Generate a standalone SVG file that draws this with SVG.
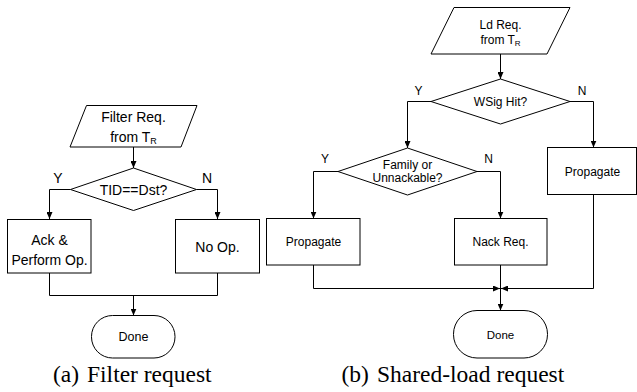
<svg xmlns="http://www.w3.org/2000/svg" width="637" height="392" viewBox="0 0 637 392">
  <style>
    .shape { fill: #ffffff; stroke: #000000; stroke-width: 1; }
    .wire { fill: none; stroke: #000000; stroke-width: 1; }
    .lbl { font-family: "Liberation Sans", Arial, sans-serif; fill: #000000; text-anchor: middle; }
    .big { font-size: 14px; }
    .small { font-size: 12px; }
    .sub { font-size: 9px; }
    .cap { font-family: "Liberation Serif", "Times New Roman", serif; font-size: 23.5px; fill: #000000; }
  </style>
  <defs>
    <marker id="arrow" markerUnits="userSpaceOnUse" markerWidth="7" markerHeight="6" refX="7" refY="3" orient="auto">
      <path d="M0,0 L7,3 L0,6 z" fill="#000000"/>
    </marker>
  </defs>

  <rect width="637" height="392" fill="#ffffff"/>

  <!-- (a) filter request flow -->
  <g id="connectors-a">
    <path class="wire" d="M133.5,147 V168" marker-end="url(#arrow)"/>
    <path class="wire" d="M70.5,189.5 H49.5 V219" marker-end="url(#arrow)"/>
    <path class="wire" d="M196.5,189.5 H217.5 V219" marker-end="url(#arrow)"/>
    <path class="wire" d="M49.5,273 V295.5 H217.5 V273"/>
    <path class="wire" d="M133.5,295.5 V315.5" marker-end="url(#arrow)"/>
    <text class="lbl big" x="58" y="183">Y</text>
    <text class="lbl big" x="207" y="183">N</text>
  </g>

  <g id="filter-req">
    <polygon class="shape" points="86.5,105.5 197,105.5 181,147 70,147"/>
    <text class="lbl big" x="133.5" y="121.5">Filter Req.</text>
    <text class="lbl big" x="133.5" y="141.5">from T<tspan class="sub" dy="2">R</tspan></text>
  </g>

  <g id="tid-check">
    <polygon class="shape" points="133.5,168 196.5,189.5 133.5,210.5 70.5,189.5"/>
    <text class="lbl big" x="133.5" y="194.5">TID==Dst?</text>
  </g>

  <g id="ack-perform">
    <rect class="shape" x="7.5" y="219.5" width="83.5" height="53.5"/>
    <text class="lbl big" x="49.5" y="244.5">Ack &amp;</text>
    <text class="lbl big" x="49.5" y="264.5">Perform Op.</text>
  </g>

  <g id="no-op">
    <rect class="shape" x="175.5" y="219.5" width="84" height="53.5"/>
    <text class="lbl big" x="217.5" y="251.5">No Op.</text>
  </g>

  <g id="done-a">
    <rect class="shape" x="91.5" y="315.5" width="83.5" height="42.5" rx="21" ry="21"/>
    <text class="lbl" style="font-size:12.5px" x="133.5" y="341">Done</text>
  </g>

  <!-- (b) shared-load request flow -->
  <g id="connectors-b">
    <path class="wire" d="M500.5,54 V79" marker-end="url(#arrow)"/>
    <path class="wire" d="M431,101.5 H407.5 V148" marker-end="url(#arrow)"/>
    <path class="wire" d="M570,101.5 H593.5 V147.5" marker-end="url(#arrow)"/>
    <path class="wire" d="M338,171.5 H313.5 V218.5" marker-end="url(#arrow)"/>
    <path class="wire" d="M477,171.5 H500.5 V218.5" marker-end="url(#arrow)"/>
    <path class="wire" d="M313.5,265 V288.5 H500" marker-end="url(#arrow)"/>
    <path class="wire" d="M593.5,194.5 V288.5 H501" marker-end="url(#arrow)"/>
    <path class="wire" d="M500.5,265 V310.5" marker-end="url(#arrow)"/>
    <text class="lbl small" x="418.5" y="94.5">Y</text>
    <text class="lbl small" x="582" y="94.5">N</text>
    <text class="lbl small" x="325" y="162.5">Y</text>
    <text class="lbl small" x="488.5" y="162.5">N</text>
  </g>

  <g id="ld-req">
    <polygon class="shape" points="454,7.5 570,7.5 547,54 431,54"/>
    <text class="lbl small" x="500.5" y="29">Ld Req.</text>
    <text class="lbl small" x="500.5" y="44">from T<tspan class="sub" style="font-size:8px" dy="2">R</tspan></text>
  </g>

  <g id="wsig-hit">
    <polygon class="shape" points="500.5,79 570,101.5 500.5,124 431,101.5"/>
    <text class="lbl small" x="500.5" y="106">WSig Hit?</text>
  </g>

  <g id="family-check">
    <polygon class="shape" points="407.5,148 477,171.5 407.5,195 338,171.5"/>
    <text class="lbl small" x="407.5" y="169">Family or</text>
    <text class="lbl small" x="407.5" y="182">Unnackable?</text>
  </g>

  <g id="propagate-hit">
    <rect class="shape" x="266.5" y="218.5" width="93.5" height="46.5"/>
    <text class="lbl small" x="313.5" y="246">Propagate</text>
  </g>

  <g id="nack-req">
    <rect class="shape" x="454.5" y="218.5" width="92.5" height="46.5"/>
    <text class="lbl small" x="500.5" y="246">Nack Req.</text>
  </g>

  <g id="propagate-miss">
    <rect class="shape" x="547.5" y="147.5" width="89" height="47"/>
    <text class="lbl small" x="592.5" y="176">Propagate</text>
  </g>

  <g id="done-b">
    <rect class="shape" x="453.5" y="310.5" width="94" height="47.5" rx="23.5" ry="23.5"/>
    <text class="lbl" style="font-size:11.5px" x="500.5" y="338.5">Done</text>
  </g>

  <!-- sub-figure captions -->
  <g id="captions">
    <text class="cap" x="53" y="382">(a)</text>
    <text class="cap" x="87" y="382">Filter request</text>
    <text class="cap" x="341.5" y="382">(b)</text>
    <text class="cap" x="377" y="382">Shared-load request</text>
  </g>
</svg>
